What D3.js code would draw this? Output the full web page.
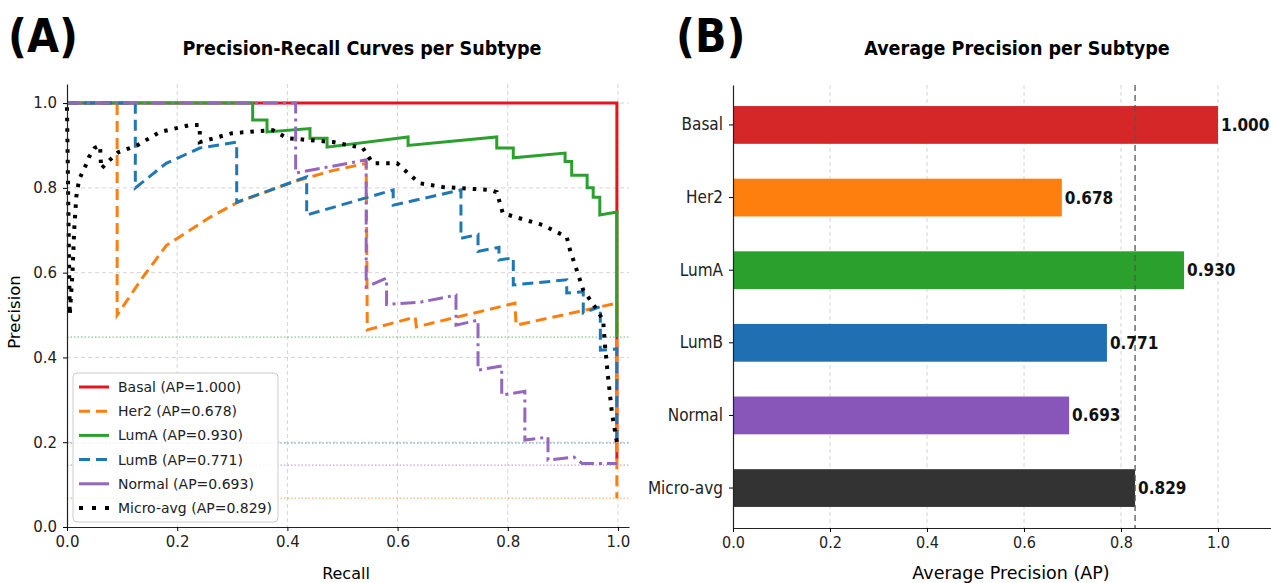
<!DOCTYPE html>
<html>
<head>
<meta charset="utf-8">
<script src="https://cdn.jsdelivr.net/npm/d3@7"></script>
<style>
  body { margin: 0; background: #fff; }
  svg { display: block; }
  .tick text { fill: #222; }
</style>
</head>
<body>
<div id="chart"></div>
<script>
// ---- data ----
var subtypes = ["Basal", "Her2", "LumA", "LumB", "Normal", "Micro-avg"];
var apValues = [1.000, 0.678, 0.930, 0.771, 0.693, 0.829];
var xTicks = [0.0, 0.2, 0.4, 0.6, 0.8, 1.0];
var yTicks = [0.0, 0.2, 0.4, 0.6, 0.8, 1.0];

// [recall, precision]
var basalPR = [[0, 1], [0.998, 1], [0.998, 0.16]];
var her2PR = [[0, 1], [0.091, 1], [0.091, 0.5], [0.138, 0.59], [0.181, 0.665], [0.26, 0.731],
  [0.31, 0.766], [0.41, 0.814], [0.48, 0.84], [0.543, 0.858], [0.545, 0.465], [0.632, 0.495],
  [0.634, 0.472], [0.813, 0.528], [0.815, 0.476], [0.998, 0.528], [0.998, 0.068]];
var lumAPR = [[0, 1], [0.337, 1], [0.337, 0.96], [0.363, 0.96], [0.363, 0.932], [0.441, 0.94],
  [0.441, 0.917], [0.472, 0.917], [0.472, 0.896], [0.619, 0.92], [0.619, 0.9], [0.78, 0.92],
  [0.78, 0.894], [0.81, 0.894], [0.81, 0.871], [0.904, 0.882], [0.904, 0.862], [0.916, 0.862],
  [0.916, 0.83], [0.944, 0.83], [0.944, 0.80], [0.955, 0.80], [0.955, 0.778], [0.967, 0.778],
  [0.967, 0.736], [0.998, 0.743], [0.998, 0.448]];
var lumBPR = [[0, 1], [0.124, 1], [0.124, 0.80], [0.18, 0.858], [0.241, 0.894], [0.308, 0.908],
  [0.308, 0.766], [0.435, 0.826], [0.435, 0.736], [0.592, 0.795], [0.592, 0.759], [0.715, 0.795],
  [0.715, 0.681], [0.746, 0.69], [0.746, 0.65], [0.784, 0.66], [0.784, 0.63], [0.81, 0.635],
  [0.81, 0.571], [0.907, 0.583], [0.907, 0.552], [0.937, 0.555], [0.937, 0.505], [0.968, 0.52],
  [0.968, 0.417], [0.998, 0.42], [0.998, 0.198]];
var normalPR = [[0, 1], [0.415, 1], [0.415, 0.835], [0.543, 0.866], [0.543, 0.566], [0.58, 0.587],
  [0.58, 0.525], [0.64, 0.53], [0.706, 0.547], [0.706, 0.476], [0.746, 0.488], [0.746, 0.37],
  [0.789, 0.38], [0.789, 0.311], [0.831, 0.32], [0.831, 0.205], [0.873, 0.212], [0.873, 0.158],
  [0.92, 0.165], [0.935, 0.15], [0.998, 0.15]];
var microPR = [[0, 0.99], [0.005, 0.5], [0.01, 0.6], [0.013, 0.7], [0.017, 0.78], [0.022, 0.82],
  [0.033, 0.85], [0.04, 0.873], [0.05, 0.894], [0.06, 0.9], [0.062, 0.845], [0.078, 0.866],
  [0.093, 0.884], [0.127, 0.9], [0.169, 0.932], [0.223, 0.948], [0.241, 0.948], [0.241, 0.908],
  [0.30, 0.929], [0.374, 0.936], [0.40, 0.917], [0.483, 0.908], [0.537, 0.894], [0.555, 0.858],
  [0.599, 0.858], [0.623, 0.83], [0.64, 0.811], [0.682, 0.802], [0.768, 0.795], [0.78, 0.79],
  [0.791, 0.74], [0.864, 0.712], [0.907, 0.684], [0.913, 0.653], [0.927, 0.599], [0.937, 0.559],
  [0.962, 0.512], [0.973, 0.488], [0.976, 0.434], [0.982, 0.354], [0.989, 0.269], [0.998, 0.2]];

// chance-level baselines (dotted)
var baselineSubtypes = ["Her2", "LumA", "LumB", "Normal"];
var baselineValues = [0.068, 0.448, 0.198, 0.146];

// ---- styles ----
var lineColors = {"Basal": "#e8141b", "Her2": "#ff7f0e", "LumA": "#2ca02c", "LumB": "#1f77b4", "Normal": "#9467bd", "Micro-avg": "#000"};
var barColors = {"Basal": "#d62728", "Her2": "#ff7f0e", "LumA": "#2ca02c", "LumB": "#1f6fb2", "Normal": "#8856b8", "Micro-avg": "#333333"};
var dashes = {"Basal": null, "Her2": "11,6", "LumA": null, "LumB": "11,6", "Normal": "15,5,3,5", "Micro-avg": "3.5,7"};
var widths = {"Basal": 3, "Her2": 3, "LumA": 3, "LumB": 3, "Normal": 3, "Micro-avg": 4};
var curves = [basalPR, her2PR, lumAPR, lumBPR, normalPR, microPR];

var W = 1271, H = 583;
var svg = d3.select("#chart").append("svg").attr("width", W).attr("height", H);
var cond = "'DejaVu Sans Condensed', 'DejaVu Sans', sans-serif";
var norm = "'DejaVu Sans', sans-serif";

// ================= panel A =================
var xA = d3.scaleLinear().domain([0, 1.02]).range([67, 629]);
var yA = d3.scaleLinear().domain([0, 1.045]).range([527, 84]);

var gA = svg.append("g");

// grid
gA.append("g").selectAll("line").data(xTicks.slice(1)).enter().append("line")
  .attr("x1", d => xA(d)).attr("x2", d => xA(d)).attr("y1", yA(1.045)).attr("y2", yA(0))
  .attr("stroke", "#ccc").attr("stroke-width", 0.8).attr("stroke-dasharray", "4,3");
gA.append("g").selectAll("line").data(yTicks.slice(1)).enter().append("line")
  .attr("x1", xA(0)).attr("x2", xA(1.02)).attr("y1", d => yA(d)).attr("y2", d => yA(d))
  .attr("stroke", "#ccc").attr("stroke-width", 0.8).attr("stroke-dasharray", "4,3");

// baselines
gA.append("g").selectAll("line").data(baselineValues).enter().append("line")
  .attr("x1", xA(0)).attr("x2", xA(1.02)).attr("y1", d => yA(d)).attr("y2", d => yA(d))
  .attr("stroke", (d, i) => lineColors[baselineSubtypes[i]]).attr("stroke-width", 1)
  .attr("stroke-dasharray", "1.5,2").attr("opacity", 0.7);

var line = d3.line().x(d => xA(d[0])).y(d => yA(d[1]));

gA.append("g").selectAll("path").data(curves).enter().append("path")
  .attr("d", d => line(d))
  .attr("fill", "none")
  .attr("stroke", (d, i) => lineColors[subtypes[i]])
  .attr("stroke-width", (d, i) => widths[subtypes[i]])
  .attr("stroke-dasharray", (d, i) => dashes[subtypes[i]])
  .attr("stroke-linejoin", "miter");

// axes
gA.append("g").attr("transform", `translate(0,${yA(0)})`)
  .call(d3.axisBottom(xA).tickValues(xTicks).tickFormat(d3.format(".1f")).tickSize(4).tickPadding(5).tickSizeOuter(0))
  .call(g => g.selectAll("text").attr("font-family", norm).attr("font-size", 15))
  .call(g => g.select(".domain").attr("stroke", "#222").attr("stroke-width", 1.2));
gA.append("g").attr("transform", `translate(${xA(0)},0)`)
  .call(d3.axisLeft(yA).tickValues(yTicks).tickFormat(d3.format(".1f")).tickSize(4).tickPadding(6).tickSizeOuter(0))
  .call(g => g.selectAll("text").attr("font-family", norm).attr("font-size", 15))
  .call(g => g.select(".domain").attr("stroke", "#222").attr("stroke-width", 1.2));

gA.append("text").attr("x", 346).attr("y", 579).attr("text-anchor", "middle")
  .attr("font-family", norm).attr("font-size", 16).text("Recall");
gA.append("text").attr("transform", "translate(20,312) rotate(-90)").attr("text-anchor", "middle")
  .attr("font-family", norm).attr("font-size", 16.5).text("Precision");
gA.append("text").attr("x", 362).attr("y", 55).attr("text-anchor", "middle")
  .attr("font-family", cond).attr("font-weight", "bold").attr("font-size", 19.5)
  .text("Precision-Recall Curves per Subtype");
svg.append("text").attr("x", 8).attr("y", 52)
  .attr("font-family", cond).attr("font-weight", "bold").attr("font-size", 46).text("(A)");

// legend
var leg = gA.append("g").attr("transform", "translate(73,373)");
leg.append("rect").attr("width", 205).attr("height", 149).attr("rx", 4)
  .attr("fill", "#fff").attr("fill-opacity", 0.85).attr("stroke", "#ccc");
var items = leg.selectAll("g.item").data(subtypes).enter().append("g").attr("class", "item")
  .attr("transform", (d, i) => `translate(0,${14 + i * 24.2})`);
items.append("line").attr("x1", 6).attr("x2", 36)
  .attr("stroke", d => lineColors[d]).attr("stroke-width", d => widths[d])
  .attr("stroke-dasharray", d => d === "Normal" ? null : (d === "Micro-avg" ? "4,9" : dashes[d]));
items.append("text").attr("x", 45).attr("dy", "0.35em")
  .attr("font-family", norm).attr("font-size", 14).attr("fill", "#222")
  .text((d, i) => `${d} (AP=${apValues[i].toFixed(3)})`);

// ================= panel B =================
var xB = d3.scaleLinear().domain([0, 1.11]).range([733, 733 + 1.11 * 485]);
var yB = d3.scaleBand().domain(subtypes).range([85, 528]).paddingInner(0.48).paddingOuter(0.29);

var gB = svg.append("g");
gB.append("g").selectAll("line").data(xTicks.slice(1)).enter().append("line")
  .attr("x1", d => xB(d)).attr("x2", d => xB(d)).attr("y1", 85).attr("y2", 528)
  .attr("stroke", "#ccc").attr("stroke-width", 0.8).attr("stroke-dasharray", "4,3");

gB.append("g").selectAll("rect").data(subtypes).enter().append("rect")
  .attr("x", xB(0)).attr("y", d => yB(d))
  .attr("width", (d, i) => xB(apValues[i]) - xB(0)).attr("height", yB.bandwidth())
  .attr("fill", d => barColors[d]);

gB.append("line").attr("x1", xB(apValues[5])).attr("x2", xB(apValues[5])).attr("y1", 85).attr("y2", 528)
  .attr("stroke", "#555").attr("stroke-width", 1.3).attr("stroke-dasharray", "6,4");

gB.append("g").selectAll("text").data(subtypes).enter().append("text")
  .attr("x", (d, i) => xB(apValues[i]) + 3).attr("y", d => yB(d) + yB.bandwidth() / 2).attr("dy", "0.35em")
  .attr("font-family", cond).attr("font-weight", "bold").attr("font-size", 17).attr("fill", "#111")
  .text((d, i) => apValues[i].toFixed(3));

gB.append("g").attr("transform", "translate(0,528)")
  .call(d3.axisBottom(xB).tickValues(xTicks).tickFormat(d3.format(".1f")).tickSize(4).tickPadding(5).tickSizeOuter(0))
  .call(g => g.selectAll("text").attr("font-family", cond).attr("font-size", 16))
  .call(g => g.select(".domain").attr("stroke", "#222").attr("stroke-width", 1.2));
gB.append("g").attr("transform", `translate(${xB(0)},0)`)
  .call(d3.axisLeft(yB).tickSize(4).tickPadding(6).tickSizeOuter(0))
  .call(g => g.selectAll("text").attr("font-family", cond).attr("font-size", 17))
  .call(g => g.select(".domain").attr("stroke", "#222").attr("stroke-width", 1.2));

gB.append("text").attr("x", 1011).attr("y", 579).attr("text-anchor", "middle")
  .attr("font-family", norm).attr("font-size", 17.5).text("Average Precision (AP)");
gB.append("text").attr("x", 1017).attr("y", 55).attr("text-anchor", "middle")
  .attr("font-family", cond).attr("font-weight", "bold").attr("font-size", 19.5)
  .text("Average Precision per Subtype");
svg.append("text").attr("x", 676).attr("y", 52)
  .attr("font-family", cond).attr("font-weight", "bold").attr("font-size", 46).text("(B)");
</script>
</body>
</html>
